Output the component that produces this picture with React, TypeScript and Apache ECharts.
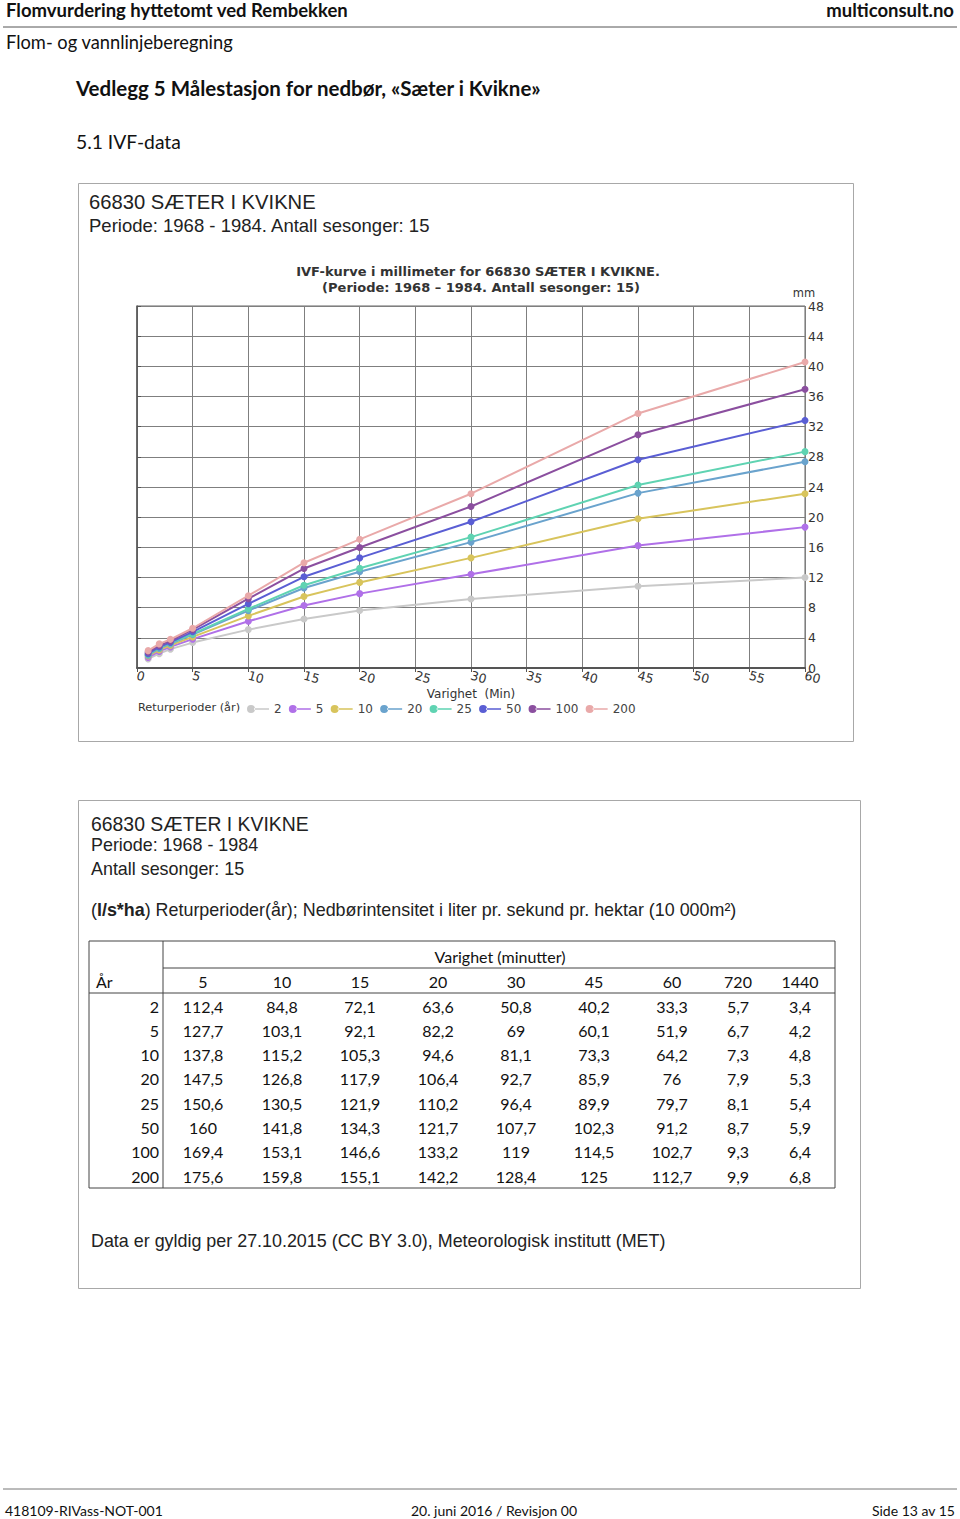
import React, { useEffect, useRef } from "react";
import * as echarts from "echarts";

// ---- Chart data (mm precipitation vs. duration in minutes) ----
const chartDurations = [1, 2, 3, 5, 10, 15, 20, 30, 45, 60];
const seriesNames = ["2", "5", "10", "20", "25", "50", "100", "200"];
const mm2 = [1.2, 1.9, 2.5, 3.37, 5.09, 6.49, 7.63, 9.14, 10.85, 11.99];
const mm5 = [1.4, 2.2, 2.8, 3.83, 6.19, 8.29, 9.86, 12.42, 16.23, 18.68];
const mm10 = [1.6, 2.4, 3.0, 4.13, 6.91, 9.48, 11.35, 14.6, 19.79, 23.11];
const mm20 = [1.7, 2.6, 3.2, 4.43, 7.61, 10.61, 12.77, 16.69, 23.19, 27.36];
const mm25 = [1.8, 2.7, 3.3, 4.52, 7.83, 10.97, 13.22, 17.35, 24.27, 28.69];
const mm50 = [1.9, 2.8, 3.4, 4.8, 8.51, 12.09, 14.6, 19.39, 27.62, 32.83];
const mm100 = [2.1, 3.0, 3.6, 5.08, 9.19, 13.19, 15.98, 21.42, 30.92, 36.97];
const mm200 = [2.3, 3.2, 3.8, 5.27, 9.59, 13.96, 17.06, 23.11, 33.75, 40.57];
const seriesValues = [mm2, mm5, mm10, mm20, mm25, mm50, mm100, mm200];
const seriesColors = ["#c9c9c9", "#b070e8", "#d8c45c", "#6aa3cd", "#5fd3b2", "#5a5ed4", "#8b4f9f", "#e9a9a9"];

// ---- Table data (l/s*ha) ----
const tableDurations = ["5", "10", "15", "20", "30", "45", "60", "720", "1440"];
const tableYears = ["2", "5", "10", "20", "25", "50", "100", "200"];
const row2 = ["112,4", "84,8", "72,1", "63,6", "50,8", "40,2", "33,3", "5,7", "3,4"];
const row5 = ["127,7", "103,1", "92,1", "82,2", "69", "60,1", "51,9", "6,7", "4,2"];
const row10 = ["137,8", "115,2", "105,3", "94,6", "81,1", "73,3", "64,2", "7,3", "4,8"];
const row20 = ["147,5", "126,8", "117,9", "106,4", "92,7", "85,9", "76", "7,9", "5,3"];
const row25 = ["150,6", "130,5", "121,9", "110,2", "96,4", "89,9", "79,7", "8,1", "5,4"];
const row50 = ["160", "141,8", "134,3", "121,7", "107,7", "102,3", "91,2", "8,7", "5,9"];
const row100 = ["169,4", "153,1", "146,6", "133,2", "119", "114,5", "102,7", "9,3", "6,4"];
const row200 = ["175,6", "159,8", "155,1", "142,2", "128,4", "125", "112,7", "9,9", "6,8"];
const tableRows = [row2, row5, row10, row20, row25, row50, row100, row200];

const xTicks = [0, 60, 5];
const yTicks = [0, 48, 4];

const CAL = "Lato, 'Open Sans', sans-serif";
const ARIAL = "'Liberation Sans', Arial, sans-serif";
const DJ = "'DejaVu Sans', sans-serif";

function txt(x: number, y: number, text: string, o: any = {}) {
  return {
    type: "text",
    x,
    y,
    silent: true,
    style: {
      text,
      fontFamily: o.fontFamily || CAL,
      fontSize: o.fontSize || 16,
      fontWeight: o.fontWeight || "normal",
      fill: o.fill || "#111",
      align: o.align || "left",
      verticalAlign: "middle",
      rich: o.rich,
    },
  };
}
function ln(x1: number, y1: number, x2: number, y2: number, stroke = "#333", lineWidth = 1) {
  return { type: "line", silent: true, shape: { x1, y1, x2, y2 }, style: { stroke, lineWidth } };
}

export default function App() {
  const ref = useRef<HTMLDivElement>(null);
  useEffect(() => {
    document.body.style.margin = "0";
    const chart = echarts.init(ref.current!, null, { renderer: "svg" });

    const graphics: any[] = [];
    // page header
    graphics.push(txt(6, 10, "Flomvurdering hyttetomt ved Rembekken", { fontSize: 18.5, fontWeight: "bold" }));
    graphics.push(txt(954, 10, "multiconsult.no", { fontSize: 18.5, fontWeight: "bold", align: "right" }));
    graphics.push(ln(3, 27, 957, 27, "#555", 1));
    graphics.push(txt(6, 42, "Flom- og vannlinjeberegning", { fontSize: 18.3 }));
    graphics.push(txt(76, 88, "Vedlegg 5 Målestasjon for nedbør, «Sæter i Kvikne»", { fontSize: 20.5, fontWeight: "bold" }));
    graphics.push(txt(76, 141, "5.1 IVF-data", { fontSize: 19.3 }));

    // box 1
    graphics.push({ type: "rect", silent: true, shape: { x: 78.5, y: 183.5, width: 775, height: 558 }, style: { fill: "transparent", stroke: "#a8a8a8", lineWidth: 1 } });
    graphics.push(txt(89, 202, "66830 SÆTER I KVIKNE", { fontFamily: ARIAL, fontSize: 20.2, fill: "#222" }));
    graphics.push(txt(89, 225, "Periode: 1968 - 1984. Antall sesonger: 15", { fontFamily: ARIAL, fontSize: 18.5, fill: "#222" }));
    graphics.push(txt(478, 271, "IVF-kurve i millimeter for 66830 SÆTER I KVIKNE.", { fontFamily: DJ, fontSize: 13, fontWeight: "bold", fill: "#333", align: "center" }));
    graphics.push(txt(481, 287, "(Periode: 1968 – 1984. Antall sesonger: 15)", { fontFamily: DJ, fontSize: 13, fontWeight: "bold", fill: "#333", align: "center" }));
    graphics.push(txt(804, 293, "mm", { fontFamily: DJ, fontSize: 11.5, fill: "#333", align: "center" }));
    graphics.push(txt(138, 707, "Returperioder (år)", { fontFamily: DJ, fontSize: 11.3, fill: "#333" }));

    // box 2
    graphics.push({ type: "rect", silent: true, shape: { x: 78.5, y: 800.5, width: 782, height: 488 }, style: { fill: "transparent", stroke: "#a8a8a8", lineWidth: 1 } });
    graphics.push(txt(91, 824, "66830 SÆTER I KVIKNE", { fontFamily: ARIAL, fontSize: 19.4, fill: "#222" }));
    graphics.push(txt(91, 845, "Periode: 1968 - 1984", { fontFamily: ARIAL, fontSize: 17.9, fill: "#222" }));
    graphics.push(txt(91, 869, "Antall sesonger: 15", { fontFamily: ARIAL, fontSize: 17.9, fill: "#222" }));
    graphics.push(txt(91, 910, "({b|l/s*ha}) Returperioder(år); Nedbørintensitet i liter pr. sekund pr. hektar (10 000m²)", {
      fontFamily: ARIAL, fontSize: 17.9, fill: "#222",
      rich: { b: { fontWeight: "bold", fontFamily: ARIAL, fontSize: 17.9, fill: "#222" } },
    }));
    graphics.push(txt(91, 1241, "Data er gyldig per 27.10.2015 (CC BY 3.0), Meteorologisk institutt (MET)", { fontFamily: ARIAL, fontSize: 17.9, fill: "#222" }));

    // table
    const tL = 89, tR = 835, tTop = 941, tMid = 968, tHead = 993, tBot = 1188, cSep = 163;
    const colBounds = [163, 243, 321, 399, 477, 555, 633, 711, 765, 835];
    graphics.push(ln(tL, tTop, tR, tTop, "#444"));
    graphics.push(ln(cSep, tMid, tR, tMid, "#444"));
    graphics.push(ln(tL, tHead, tR, tHead, "#444"));
    graphics.push(ln(tL, tBot, tR, tBot, "#444"));
    graphics.push(ln(tL, tTop, tL, tBot, "#444"));
    graphics.push(ln(cSep, tTop, cSep, tBot, "#444"));
    graphics.push(ln(tR, tTop, tR, tBot, "#444"));
    graphics.push(txt(500, 956, "Varighet (minutter)", { fontSize: 16, align: "center" }));
    graphics.push(txt(96, 981, "År", { fontSize: 16 }));
    tableDurations.forEach((d, i) => {
      const cx = (colBounds[i] + colBounds[i + 1]) / 2;
      graphics.push(txt(cx, 981, d, { fontSize: 16, align: "center" }));
    });
    tableYears.forEach((yr, r) => {
      const cy = 1006 + r * 24.3;
      graphics.push(txt(159, cy, yr, { fontSize: 16, align: "right" }));
      tableRows[r].forEach((v, i) => {
        const cx = (colBounds[i] + colBounds[i + 1]) / 2;
        graphics.push(txt(cx, cy, v, { fontSize: 16, align: "center" }));
      });
    });

    // page footer
    graphics.push(ln(3, 1489, 957, 1489, "#777", 1));
    graphics.push(txt(5, 1510, "418109-RIVass-NOT-001", { fontSize: 14 }));
    graphics.push(txt(494, 1510, "20. juni 2016 / Revisjon 00", { fontSize: 14, align: "center" }));
    graphics.push(txt(955, 1510, "Side 13 av 15", { fontSize: 14, align: "right" }));

    const series = seriesNames.map((name, i) => ({
      name,
      type: "line",
      data: chartDurations.map((d, j) => [d, seriesValues[i][j]]),
      symbol: "circle",
      symbolSize: 7,
      lineStyle: { width: 2, color: seriesColors[i] },
      itemStyle: { color: seriesColors[i] },
      color: seriesColors[i],
      z: 3 + i,
    }));

    chart.setOption({
      animation: false,
      backgroundColor: "#fff",
      grid: { left: 137, top: 306, right: 155, bottom: 851, show: true, borderColor: "#666", borderWidth: 1 },
      xAxis: {
        type: "value",
        min: xTicks[0],
        max: xTicks[1],
        interval: xTicks[2],
        name: "Varighet  (Min)",
        nameLocation: "middle",
        nameGap: 20,
        nameTextStyle: { fontFamily: DJ, fontSize: 12, color: "#333" },
        axisLine: { show: true, lineStyle: { color: "#555", width: 2 } },
        axisTick: { show: true, length: 4, lineStyle: { color: "#555" } },
        axisLabel: { rotate: -15, fontFamily: DJ, fontSize: 12.5, color: "#333", margin: 7 },
        splitLine: { show: true, lineStyle: { color: "#7f7f7f", width: 1 } },
      },
      yAxis: {
        type: "value",
        position: "right",
        min: yTicks[0],
        max: yTicks[1],
        interval: yTicks[2],
        axisLine: { show: true, lineStyle: { color: "#555", width: 1.5 } },
        axisTick: { show: true, length: 4, lineStyle: { color: "#555" } },
        axisLabel: { fontFamily: DJ, fontSize: 12.5, color: "#333", margin: 3 },
        splitLine: { show: true, lineStyle: { color: "#7f7f7f", width: 1 } },
      },
      legend: {
        left: 242,
        top: 698,
        itemWidth: 22,
        itemHeight: 8,
        itemGap: 7.2,
        icon: "path://M0,4a4,4 0 1,0 8,0a4,4 0 1,0 -8,0z M7,3.3h15v1.4h-15z",
        textStyle: { fontFamily: DJ, fontSize: 12, color: "#444" },
        data: seriesNames,
      },
      series,
      graphic: graphics,
    });
    return () => chart.dispose();
  }, []);
  return <div ref={ref} style={{ width: 960, height: 1519 }} />;
}
